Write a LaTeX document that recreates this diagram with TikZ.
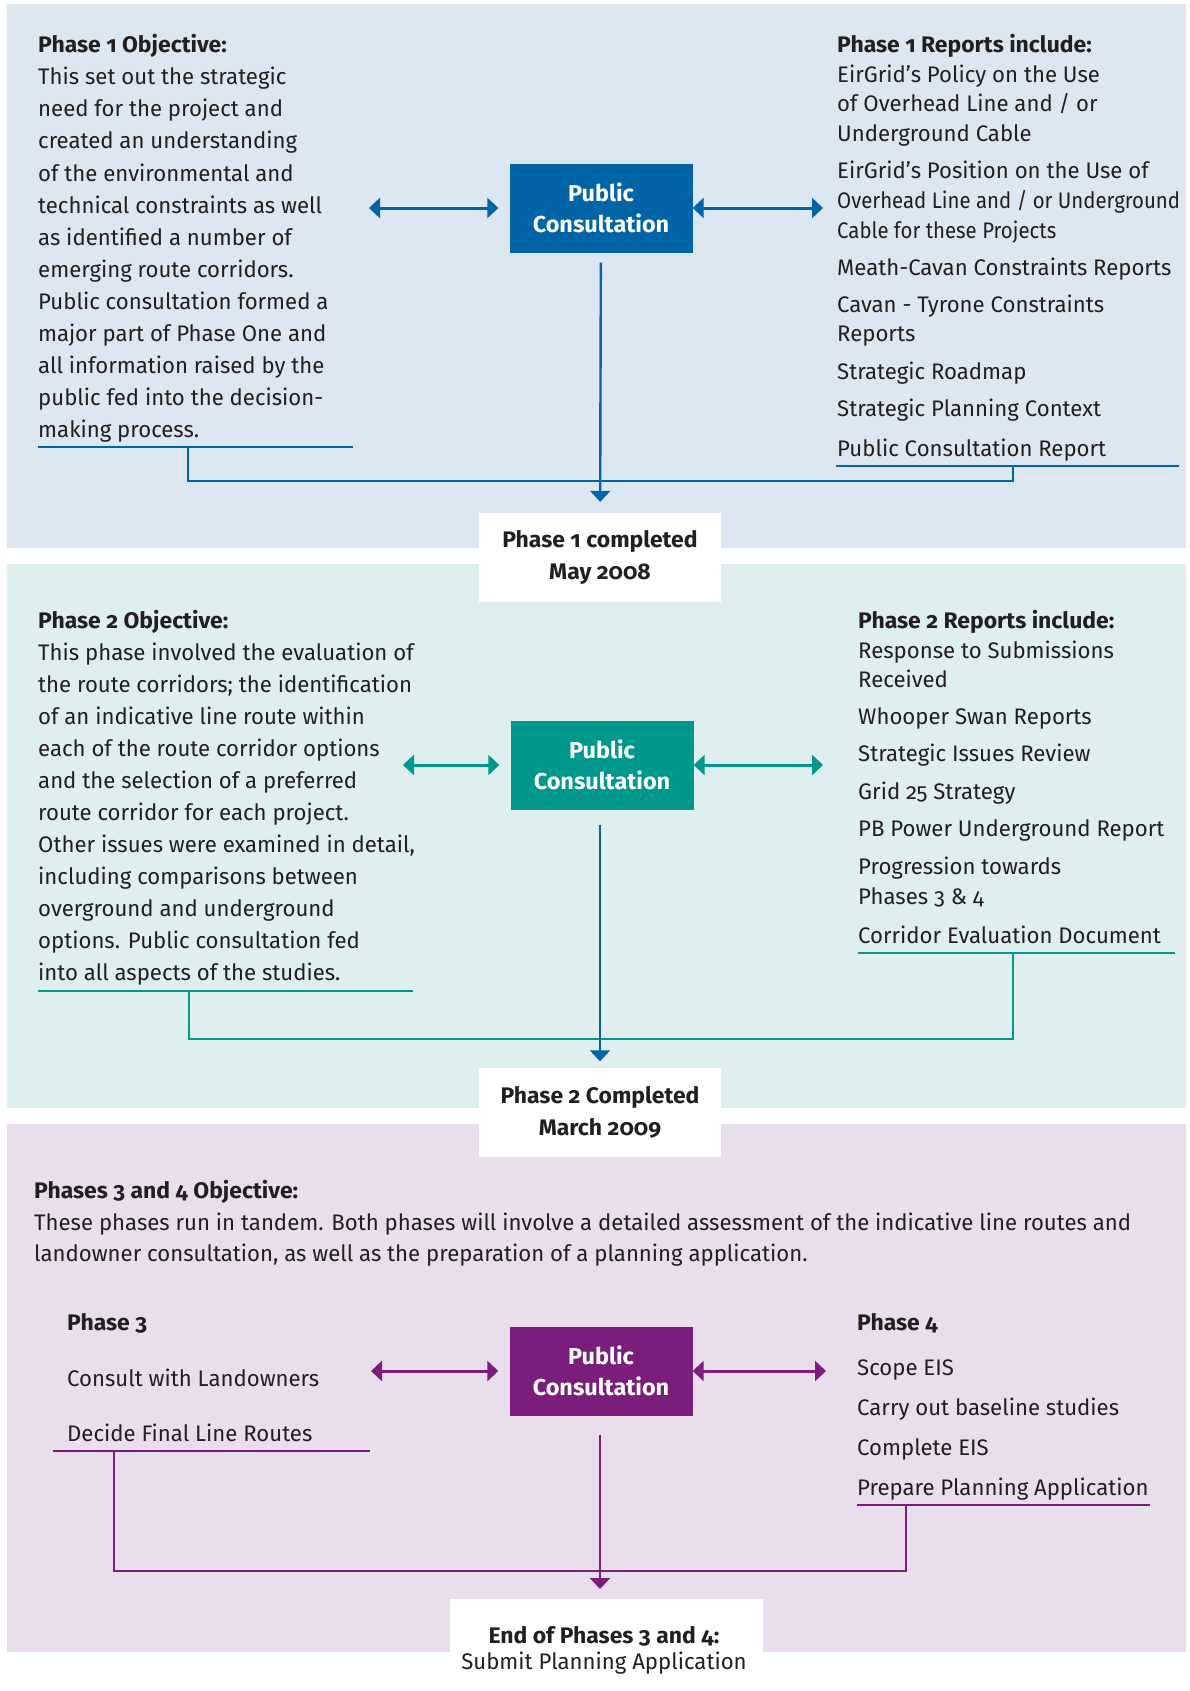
\documentclass[tikz,border=0pt]{standalone}
\usepackage{fontspec}
\setmainfont{Fira Sans}[Numbers=OldStyle, FakeStretch=0.985, BoldFeatures={FakeStretch=1.02}]
\usetikzlibrary{arrows.meta}
\definecolor{bgone}{HTML}{DDE7F1}
\definecolor{bgtwo}{HTML}{DFEEEF}
\definecolor{bgthree}{HTML}{E9DFEC}
\definecolor{eblue}{HTML}{0064A7}
\definecolor{eteal}{HTML}{00978D}
\definecolor{epurple}{HTML}{7B1E7B}
\definecolor{ink}{HTML}{231F20}
\tikzset{
    body/.style={anchor=base west, inner sep=0pt, text=ink, font=\fontsize{22.5}{32}\selectfont},
    head/.style={body, font=\fontsize{22.5}{32}\selectfont\bfseries},
    pcbox/.style={fill=#1, text=white, minimum width=183pt, minimum height=89pt, inner sep=0pt,
        align=center, font=\fontsize{23}{31.6}\selectfont\bfseries},
    donebox/.style={fill=white, inner sep=0pt, align=center, text=ink, minimum width=242pt,
        minimum height=89pt, font=\fontsize{22.5}{31.5}\selectfont\bfseries},
    biarrow/.style={draw=#1, line width=3pt, {Triangle[width=20pt,length=11pt]}-{Triangle[width=20pt,length=11pt]}},
    downarrow/.style={draw=#1, line width=2.4pt, -{Triangle[width=20pt,length=11pt]}},
    rule/.style={draw=#1, line width=2.6pt},
}
\begin{document}
\begin{tikzpicture}[x=1pt, y=-1pt]
    \useasboundingbox (0,0) rectangle (1189,1691);
    % 三个阶段的底色
    \fill[bgone] (7,4) rectangle (1186,548);
    \fill[bgtwo] (7,564) rectangle (1186,1108);
    \fill[bgthree] (7,1124) rectangle (1186,1652);

    % 第一阶段
    \node[pcbox=eblue] (pc1) at (601,208) {Public\\Consultation};
    \node[donebox] (done1) at (600,557.5) {Phase 1 completed\\May 2008};
    \node[head] (obj1) at (38,53) {Phase 1 Objective:};
    \foreach \t [count=\i from 0] in {This set out the strategic, need for the project and,
        created an understanding, of the environmental and, technical constraints as well,
        as identified a number of, emerging route corridors., Public consultation formed a,
        major part of Phase One and, all information raised by the, public fed into the decision-,
        making process.}
        \node[body] (obj1l\i) at (38,85+32*\i) {\t};
    \node[head] (rep1) at (837,53) {Phase 1 Reports include:};
    \foreach \y/\t [count=\i] in {82.7/EirGrid’s Policy on the Use, 112/{of Overhead Line and / or},
        141.7/Underground Cable, 178.3/EirGrid’s Position on the Use of,
        208.3/{\scalebox{0.92}[1]{Overhead Line and / or Underground}},
        238.3/{\scalebox{0.92}[1]{Cable for these Projects}},
        275/Meath-Cavan Constraints Reports, 312.7/Cavan - Tyrone Constraints, 341.7/Reports,
        379.3/Strategic Roadmap, 416.7/Strategic Planning Context, 456.7/Public Consultation Report}
        \node[body] (rep1l\i) at (837,\y) {\t};
    \coordinate (a1l) at (369,208);
    \coordinate (a1r) at (823,208);
    \draw[biarrow=eblue, shorten >=11pt] (a1l) -- (pc1);
    \draw[biarrow=eblue] (pc1) -- (a1r);
    \coordinate (u1a) at (38,447);
    \coordinate (u1b) at (353,447);
    \coordinate (u1c) at (836,466);
    \coordinate (u1d) at (1179,466);
    \coordinate (k1a) at (188,447);
    \coordinate (k1b) at (1013,466);
    \coordinate (j1) at (600,481);
    \draw[rule=eblue] (u1a) -- (u1b);
    \draw[rule=eblue] (u1c) -- (u1d);
    \draw[rule=eblue] (k1a) |- (j1) -| (k1b);
    \draw[downarrow=eblue, shorten <=10pt, shorten >=11pt] (pc1) -- (done1);

    % 第二阶段
    \node[pcbox=eteal] (pc2) at (602,765) {Public\\Consultation};
    \node[donebox] (done2) at (600,1112.5) {Phase 2 Completed\\March 2009};
    \node[head] (obj2) at (38,628.3) {Phase 2 Objective:};
    \foreach \t [count=\i from 0] in {This phase involved the evaluation of,
        the route corridors; the identification, of an indicative line route within,
        each of the route corridor options, and the selection of a preferred,
        route corridor for each project., {Other issues were examined in detail,},
        including comparisons between, overground and underground,
        options. Public consultation fed, into all aspects of the studies.}
        \node[body] (obj2l\i) at (38,660+32*\i) {\t};
    \node[head] (rep2) at (858,628.3) {Phase 2 Reports include:};
    \foreach \y/\t [count=\i] in {658.3/Response to Submissions, 687.7/Received,
        724.3/Whooper Swan Reports, 761.7/Strategic Issues Review, 799/Grid 25 Strategy,
        836.7/PB Power Underground Report, 874.3/Progression towards, 904.3/Phases 3 \& 4,
        943.3/Corridor Evaluation Document}
        \node[body] (rep2l\i) at (858,\y) {\t};
    \coordinate (a2l) at (403,765);
    \coordinate (a2r) at (823,765);
    \draw[biarrow=eteal, shorten >=11pt] (a2l) -- (pc2);
    \draw[biarrow=eteal] (pc2) -- (a2r);
    \coordinate (u2a) at (38,991);
    \coordinate (u2b) at (413,991);
    \coordinate (u2c) at (858,953);
    \coordinate (u2d) at (1175,953);
    \coordinate (k2a) at (189,991);
    \coordinate (k2b) at (1013,953);
    \coordinate (j2) at (600,1039);
    \draw[rule=eteal] (u2a) -- (u2b);
    \draw[rule=eteal] (u2c) -- (u2d);
    \draw[rule=eteal] (k2a) |- (j2) -| (k2b);
    \draw[downarrow=eblue, shorten <=15pt, shorten >=6.5pt] (pc2.south -| done2) -- (done2);

    % 第三、四阶段
    \node[pcbox=epurple] (pc3) at (601,1371) {Public\\Consultation};
    \node[fill=white, minimum width=313pt, minimum height=92pt, inner sep=0pt, anchor=north]
        (done3) at (606,1599) {};
    \node[head, anchor=base] (end3a) at (604,1643.3) {End of Phases 3 and 4:};
    \node[body, anchor=base] (end3b) at (604,1669.3) {Submit Planning Application};
    \node[head] (obj3) at (34,1198) {Phases 3 and 4 Objective:};
    \node[body] (obj3l1) at (34,1230.7) {These phases run in tandem. Both phases will involve a detailed assessment of the indicative line routes and};
    \node[body] (obj3l2) at (34,1261.7) {landowner consultation, as well as the preparation of a planning application.};
    \node[head] (ph3) at (67,1330) {Phase 3};
    \node[body] (ph3l1) at (67,1386) {Consult with Landowners};
    \node[body] (ph3l2) at (67,1441.7) {Decide Final Line Routes};
    \node[head] (ph4) at (857,1330) {Phase 4};
    \foreach \y/\t [count=\i] in {1375.9/Scope EIS, 1415.9/Carry out baseline studies,
        1455.4/Complete EIS, 1495.8/Prepare Planning Application}
        \node[body] (ph4l\i) at (857,\y) {\t};
    \coordinate (a3l) at (371,1371);
    \coordinate (a3r) at (826,1371);
    \draw[biarrow=epurple, shorten >=11pt] (a3l) -- (pc3);
    \draw[biarrow=epurple] (pc3) -- (a3r);
    \coordinate (u3a) at (53,1451);
    \coordinate (u3b) at (370,1451);
    \coordinate (u3c) at (857,1505);
    \coordinate (u3d) at (1150,1505);
    \coordinate (k3a) at (114,1451);
    \coordinate (k3b) at (906,1505);
    \coordinate (j3) at (600,1571);
    \draw[rule=epurple] (u3a) -- (u3b);
    \draw[rule=epurple] (u3c) -- (u3d);
    \draw[rule=epurple] (k3a) |- (j3) -| (k3b);
    \draw[downarrow=epurple, shorten <=19pt, shorten >=10pt] (pc3.south -| j3) -- (j3 |- done3.north);
\end{tikzpicture}
\end{document}
